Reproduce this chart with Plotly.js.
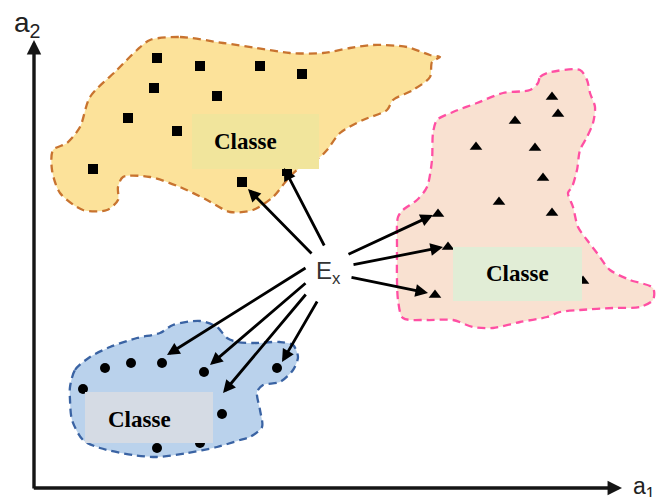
<!DOCTYPE html>
<html>
<head>
<meta charset="utf-8">
<script src="https://cdn.plot.ly/plotly-3.0.1.min.js"></script>
<style>html,body{margin:0;padding:0;background:#fff;}#plot{width:657px;height:497px;}</style>
</head>
<body>
<div id="plot"></div>
<script>
// Class region outlines (diagram coordinates)
const orangeBlobX = [150,180,223,257,290,323,350,373,407,430,440,432,430,413,393,387,363,340,327,320,297,287,273,253,230,207,180,150,123,118,118,107,83,60,52,53,67,80,90,117,137,150];
const orangeBlobY = [40,37,43,48,53,53,48,45,47,55,57,62,77,90,100,110,120,133,150,157,170,180,197,210,212,200,187,177,177,187,200,210,210,193,170,150,143,127,97,70,50,40];
const pinkBlobX = [538,540,547,580,587,590,595,593,587,580,577,572,568,573,578,587,597,610,630,653,653,640,613,580,560,547,520,493,473,453,427,403,398,397,398,403,417,427,432,433,437,453,477,503,530,538];
const pinkBlobY = [83,77,73,70,80,93,107,123,137,150,170,187,193,207,227,240,253,270,280,288,300,307,308,310,312,317,322,328,327,320,320,318,300,247,217,210,200,187,160,133,120,112,103,93,90,83];
const blueBlobX = [70,75,90,110,137,160,173,200,217,227,237,253,280,293,298,293,280,263,257,260,262,250,240,217,187,157,133,100,83,72,70,70];
const blueBlobY = [387,370,357,347,338,333,325,321,327,338,342,343,342,345,357,370,382,385,392,410,427,437,440,447,453,457,455,448,440,420,400,387];

// Class members
const squareX = [157,200,260,302,154,217,128,177,93,242,287];
const squareY = [58,66,66,74,88,96,118,131,169,182,171];
const triangleX = [552,558,515,476,535,543,499,552,438,448,435,583];
const triangleY = [97,114,121,147,148,178,202,213,214,247,295,281];
const circleX = [105,131,162,204,277,83,222,157,200];
const circleY = [368,363,363,372,368,389,414,448,443];

// Neighbour arrows: tail (near Ex) -> head (member)
const arrowTailX = [313,325,347,352,350,307,307,307,318];
const arrowTailY = [255,247,255,265,277,267,282,293,300];
const arrowHeadX = [248,284,433,443,428,167,210,223,282];
const arrowHeadY = [189,168,215,247,293,355,365,393,362];

// Labels
const classLabel = "Classe";
const exampleLabel = "E<sub>x</sub>";
const axisLabels = ["a<sub>2</sub>", "a<sub>1</sub>"];

const dashStyle = '8px,5px';
const traces = [
  {x: orangeBlobX, y: orangeBlobY, mode: 'lines', fill: 'toself', fillcolor: '#FCE29A',
   line: {color: '#C8732F', width: 2.3, dash: dashStyle, shape: 'spline', smoothing: 0.8}, hoverinfo: 'skip'},
  {x: pinkBlobX, y: pinkBlobY, mode: 'lines', fill: 'toself', fillcolor: '#F9E1D1',
   line: {color: '#FF4FA3', width: 2.3, dash: dashStyle, shape: 'spline', smoothing: 0.8}, hoverinfo: 'skip'},
  {x: blueBlobX, y: blueBlobY, mode: 'lines', fill: 'toself', fillcolor: '#BAD2EC',
   line: {color: '#3A63A3', width: 2.3, dash: dashStyle, shape: 'spline', smoothing: 0.8}, hoverinfo: 'skip'},
  {x: squareX, y: squareY, mode: 'markers', marker: {symbol: 'square', size: 10, color: '#000'}},
  {x: triangleX, y: triangleY, mode: 'markers', marker: {symbol: 'triangle-up', size: 11, color: '#000'}},
  {x: circleX, y: circleY, mode: 'markers', marker: {symbol: 'circle', size: 10, color: '#000'}}
];

const shapes = [
  {type: 'rect', xref: 'x', yref: 'y', x0: 192, x1: 319, y0: 114, y1: 169, fillcolor: '#F1E59C', line: {width: 0}, layer: 'above'},
  {type: 'rect', xref: 'x', yref: 'y', x0: 453, x1: 582, y0: 247, y1: 301, fillcolor: '#E1EDD6', line: {width: 0}, layer: 'above'},
  {type: 'rect', xref: 'x', yref: 'y', x0: 85, x1: 213, y0: 392, y1: 443, fillcolor: '#D5DBE4', line: {width: 0}, layer: 'above'}
];

const annotations = [];
for (let i = 0; i < arrowTailX.length; i++) {
  annotations.push({x: arrowHeadX[i], y: arrowHeadY[i], ax: arrowTailX[i], ay: arrowTailY[i],
    xref: 'x', yref: 'y', axref: 'x', ayref: 'y', text: '', showarrow: true,
    arrowhead: 2, arrowsize: 0.9, arrowwidth: 2.8, arrowcolor: '#000'});
}
// axes
annotations.push({x: 34, y: 40, ax: 34, ay: 490, xref: 'x', yref: 'y', axref: 'x', ayref: 'y', text: '',
  showarrow: true, arrowhead: 2, arrowsize: 0.85, arrowwidth: 3.4, arrowcolor: '#151515'});
annotations.push({x: 622, y: 488, ax: 32.3, ay: 488, xref: 'x', yref: 'y', axref: 'x', ayref: 'y', text: '',
  showarrow: true, arrowhead: 2, arrowsize: 0.85, arrowwidth: 3.4, arrowcolor: '#151515'});
// labels
const serif = {family: 'Liberation Serif, Times New Roman, serif', size: 23, color: '#000'};
annotations.push({x: 245, y: 141, xref: 'x', yref: 'y', text: '<b>' + classLabel + '</b>', showarrow: false, font: serif});
annotations.push({x: 517, y: 273, xref: 'x', yref: 'y', text: '<b>' + classLabel + '</b>', showarrow: false, font: serif});
annotations.push({x: 139, y: 419, xref: 'x', yref: 'y', text: '<b>' + classLabel + '</b>', showarrow: false, font: serif});
const sans = {family: 'Liberation Sans, Arial, sans-serif', color: '#333'};
annotations.push({x: 314, y: 272, xref: 'x', yref: 'y', xanchor: 'left', text: exampleLabel, showarrow: false,
  font: Object.assign({}, sans, {size: 24})});
annotations.push({x: 12, y: 24, xref: 'x', yref: 'y', xanchor: 'left', text: axisLabels[0], showarrow: false,
  font: Object.assign({}, sans, {size: 28, color: '#222'})});
annotations.push({x: 631, y: 487, xref: 'x', yref: 'y', xanchor: 'left', text: axisLabels[1], showarrow: false,
  font: Object.assign({}, sans, {size: 23, color: '#222'})});

const layout = {
  width: 657, height: 497, margin: {l: 0, r: 0, t: 0, b: 0},
  paper_bgcolor: '#fff', plot_bgcolor: '#fff', showlegend: false,
  xaxis: {range: [0, 657], visible: false, fixedrange: true},
  yaxis: {range: [497, 0], visible: false, fixedrange: true},
  shapes: shapes, annotations: annotations
};
Plotly.newPlot('plot', traces, layout, {staticPlot: true, displayModeBar: false});
</script>
</body>
</html>
